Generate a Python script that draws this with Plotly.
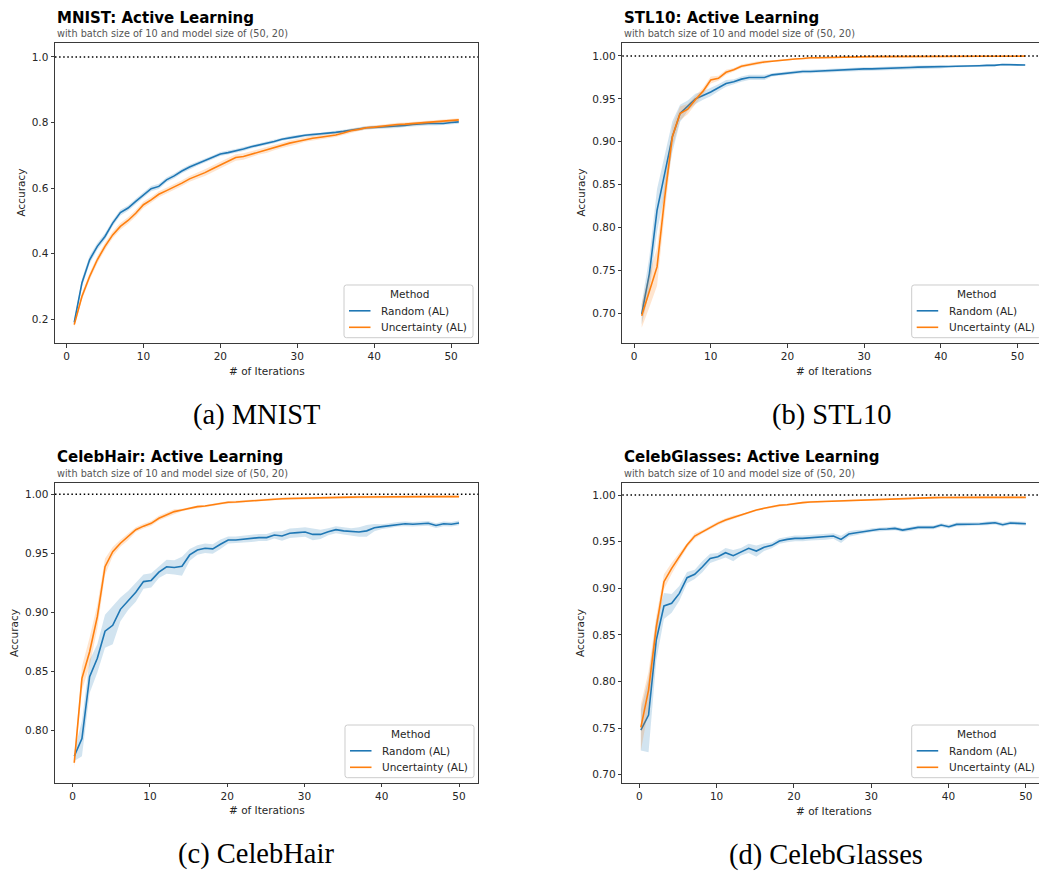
import plotly.graph_objects as go

W, H = 1039, 871

BLUE = "#1f77b4"
ORANGE = "#ff7f0e"
BLUE_BAND = "rgba(31,119,180,0.2)"
ORANGE_BAND = "rgba(255,127,14,0.2)"

METHODS = ["Random (AL)", "Uncertainty (AL)"]
LEGEND_TITLE = "Method"

# ---- iteration axes ----
MNIST_ITER = list(range(1, 52))
STL10_ITER = list(range(1, 52))
CELEB_ITER = [round(0.2 + 0.996 * k, 3) for k in range(51)]

# ---- MNIST ----
MNIST_RANDOM = [
    0.190, 0.310, 0.381, 0.422, 0.452, 0.493, 0.525, 0.539, 0.559, 0.579,
    0.598, 0.605, 0.625, 0.637, 0.652, 0.664, 0.674, 0.684, 0.693, 0.704,
    0.708, 0.713, 0.719, 0.726, 0.731, 0.737, 0.742, 0.749, 0.754, 0.757,
    0.761, 0.763, 0.764, 0.768, 0.770, 0.773, 0.777, 0.780, 0.784, 0.785,
    0.786, 0.788, 0.788, 0.791, 0.794, 0.796, 0.797, 0.797, 0.797, 0.800,
    0.802]
MNIST_RANDOM_CI = [
    0.008, 0.012, 0.012, 0.010, 0.010, 0.009, 0.009, 0.008, 0.008, 0.008,
    0.008, 0.008, 0.007, 0.007, 0.007, 0.007, 0.006, 0.006, 0.006, 0.006,
    0.006, 0.006, 0.006, 0.005, 0.005, 0.005, 0.005, 0.005, 0.005, 0.005,
    0.005, 0.005, 0.005, 0.005, 0.005, 0.005, 0.005, 0.005, 0.005, 0.005,
    0.005, 0.005, 0.005, 0.005, 0.005, 0.006, 0.006, 0.006, 0.006, 0.006,
    0.006]
MNIST_UNC = [
    0.183, 0.269, 0.330, 0.381, 0.422, 0.457, 0.483, 0.501, 0.523, 0.549,
    0.564, 0.581, 0.592, 0.603, 0.615, 0.628, 0.637, 0.647, 0.659, 0.670,
    0.681, 0.693, 0.696, 0.703, 0.711, 0.716, 0.723, 0.730, 0.737, 0.742,
    0.748, 0.752, 0.755, 0.758, 0.762, 0.768, 0.775, 0.779, 0.784, 0.786,
    0.789, 0.792, 0.794, 0.795, 0.797, 0.798, 0.800, 0.802, 0.804, 0.806,
    0.808]
MNIST_UNC_CI = [
    0.008, 0.010, 0.011, 0.011, 0.011, 0.010, 0.010, 0.010, 0.010, 0.010,
    0.009, 0.009, 0.009, 0.009, 0.009, 0.009, 0.009, 0.010, 0.010, 0.010,
    0.010, 0.010, 0.010, 0.009, 0.009, 0.009, 0.008, 0.008, 0.008, 0.008,
    0.007, 0.007, 0.007, 0.006, 0.006, 0.006, 0.006, 0.005, 0.005, 0.005,
    0.005, 0.005, 0.005, 0.005, 0.005, 0.005, 0.005, 0.005, 0.005, 0.005,
    0.005]

# ---- STL10 ----
STL10_RANDOM = [
    0.699, 0.746, 0.820, 0.861, 0.906, 0.933, 0.942, 0.950, 0.954, 0.958,
    0.963, 0.968, 0.970, 0.973, 0.975, 0.975, 0.975, 0.978, 0.979, 0.980,
    0.981, 0.982, 0.982, 0.9825, 0.983, 0.983, 0.9835, 0.984, 0.9845, 0.985,
    0.985, 0.9855, 0.986, 0.986, 0.9864, 0.9866, 0.987, 0.987, 0.9872, 0.9875,
    0.9877, 0.988, 0.988, 0.9883, 0.9887, 0.989, 0.989, 0.990, 0.990, 0.9895,
    0.9895]
STL10_RANDOM_CI = [
    0.012, 0.020, 0.025, 0.022, 0.018, 0.010, 0.006, 0.006, 0.005, 0.005,
    0.004, 0.004, 0.003, 0.003, 0.003, 0.003, 0.003, 0.002, 0.002, 0.002,
    0.002, 0.002, 0.002, 0.002, 0.002, 0.002, 0.002, 0.002, 0.002, 0.002,
    0.002, 0.002, 0.002, 0.002, 0.002, 0.002, 0.002, 0.002, 0.002, 0.002,
    0.001, 0.001, 0.001, 0.001, 0.001, 0.001, 0.001, 0.001, 0.001, 0.001,
    0.001]
STL10_UNC = [
    0.697, 0.727, 0.754, 0.835, 0.906, 0.933, 0.938, 0.949, 0.959, 0.972,
    0.974, 0.981, 0.984, 0.988, 0.990, 0.9915, 0.993, 0.994, 0.995, 0.996,
    0.9965, 0.997, 0.998, 0.998, 0.9983, 0.9985, 0.9988, 0.999, 0.999, 0.9992,
    0.9993, 0.9993, 0.9994, 0.9994, 0.9995, 0.9995, 0.9995, 0.9996, 0.9996, 0.9996,
    0.9996, 0.9997, 0.9997, 0.9997, 0.9997, 0.9997, 0.9998, 0.9998, 0.9998, 0.9998,
    0.9998]
STL10_UNC_CI = [
    0.014, 0.020, 0.022, 0.018, 0.012, 0.008, 0.006, 0.005, 0.004, 0.004,
    0.003, 0.003, 0.002, 0.002, 0.002, 0.002, 0.002, 0.001, 0.001, 0.001,
    0.001, 0.001, 0.001, 0.001, 0.001, 0.001, 0.001, 0.001, 0.001, 0.001,
    0.001, 0.001, 0.001, 0.001, 0.001, 0.001, 0.001, 0.001, 0.001, 0.001,
    0.001, 0.001, 0.001, 0.001, 0.001, 0.001, 0.001, 0.001, 0.001, 0.001,
    0.001]

# ---- CelebHair ----
CELEBHAIR_RANDOM = [
    0.778, 0.793, 0.8455, 0.861, 0.884, 0.889, 0.9025, 0.910, 0.917, 0.926,
    0.927, 0.934, 0.9386, 0.938, 0.939, 0.9486, 0.9528, 0.9542, 0.9537, 0.9576,
    0.9613, 0.9613, 0.962, 0.9625, 0.9633, 0.9633, 0.9655, 0.9647, 0.967, 0.9675,
    0.968, 0.966, 0.966, 0.9683, 0.970, 0.969, 0.9683, 0.968, 0.969, 0.9717,
    0.9726, 0.9735, 0.9746, 0.975, 0.9746, 0.975, 0.9754, 0.9735, 0.975, 0.9746,
    0.9757]
CELEBHAIR_RANDOM_CI = [
    0.004, 0.015, 0.014, 0.012, 0.014, 0.016, 0.010, 0.008, 0.008, 0.006,
    0.006, 0.005, 0.006, 0.006, 0.008, 0.005, 0.004, 0.004, 0.004, 0.004,
    0.003, 0.003, 0.003, 0.003, 0.003, 0.003, 0.003, 0.004, 0.004, 0.004,
    0.004, 0.005, 0.004, 0.003, 0.003, 0.003, 0.003, 0.004, 0.005, 0.003,
    0.002, 0.002, 0.002, 0.002, 0.002, 0.002, 0.002, 0.002, 0.002, 0.002,
    0.002]
CELEBHAIR_UNC = [
    0.7725, 0.844, 0.8666, 0.8963, 0.9386, 0.9514, 0.9585, 0.964, 0.970, 0.973,
    0.9754, 0.9797, 0.9825, 0.9853, 0.9867, 0.988, 0.9895, 0.990, 0.991, 0.9924,
    0.9932, 0.9935, 0.994, 0.9946, 0.995, 0.9955, 0.996, 0.9962, 0.9964, 0.9966,
    0.997, 0.997, 0.9972, 0.9973, 0.9974, 0.9975, 0.9976, 0.9977, 0.9978, 0.9978,
    0.9979, 0.998, 0.998, 0.998, 0.998, 0.998, 0.998, 0.998, 0.998, 0.998,
    0.998]
CELEBHAIR_UNC_CI = [
    0.004, 0.010, 0.012, 0.010, 0.007, 0.004, 0.003, 0.003, 0.002, 0.002,
    0.002, 0.002, 0.002, 0.002, 0.001, 0.001, 0.001, 0.001, 0.001, 0.001,
    0.001, 0.001, 0.001, 0.001, 0.001, 0.001, 0.001, 0.001, 0.001, 0.001,
    0.001, 0.001, 0.001, 0.001, 0.001, 0.001, 0.001, 0.001, 0.001, 0.001,
    0.001, 0.001, 0.001, 0.001, 0.001, 0.001, 0.001, 0.001, 0.001, 0.001,
    0.001]

# ---- CelebGlasses ----
CELEBGLASSES_RANDOM = [
    0.7479, 0.764, 0.8444, 0.881, 0.8838, 0.8945, 0.9113, 0.9149, 0.9231, 0.932,
    0.9338, 0.9381, 0.9349, 0.9392, 0.9428, 0.9399, 0.9439, 0.946, 0.9506, 0.9524,
    0.9535, 0.9535, 0.9542, 0.9542, 0.955, 0.956, 0.9524, 0.9582, 0.9596, 0.9607,
    0.9624, 0.9632, 0.9635, 0.9642, 0.9624, 0.9635, 0.9653, 0.9653, 0.9653, 0.9678,
    0.966, 0.9685, 0.9685, 0.9689, 0.9689, 0.9696, 0.9703, 0.9682, 0.970, 0.9696,
    0.9692]
CELEBGLASSES_RANDOM_CI = [
    0.022, 0.040, 0.022, 0.014, 0.010, 0.008, 0.006, 0.005, 0.006, 0.005,
    0.004, 0.005, 0.006, 0.004, 0.005, 0.006, 0.004, 0.003, 0.003, 0.003,
    0.003, 0.003, 0.003, 0.003, 0.003, 0.003, 0.004, 0.003, 0.003, 0.002,
    0.002, 0.002, 0.002, 0.002, 0.002, 0.002, 0.002, 0.002, 0.002, 0.002,
    0.002, 0.002, 0.002, 0.002, 0.002, 0.002, 0.002, 0.002, 0.002, 0.002,
    0.002]
CELEBGLASSES_UNC = [
    0.7507, 0.7908, 0.858, 0.907, 0.9213, 0.9338, 0.9464, 0.956, 0.9606, 0.9653,
    0.9696, 0.9732, 0.976, 0.9785, 0.981, 0.9839, 0.9857, 0.9875, 0.989, 0.9896,
    0.991, 0.9918, 0.9925, 0.9928, 0.9935, 0.9939, 0.9943, 0.9945, 0.9947, 0.995,
    0.9953, 0.9955, 0.9958, 0.996, 0.9963, 0.9965, 0.9968, 0.997, 0.9972, 0.9973,
    0.9975, 0.9975, 0.9975, 0.9975, 0.9975, 0.9975, 0.9975, 0.9975, 0.9975, 0.9975,
    0.9975]
CELEBGLASSES_UNC_CI = [
    0.025, 0.020, 0.012, 0.008, 0.006, 0.004, 0.003, 0.003, 0.002, 0.002,
    0.002, 0.002, 0.002, 0.001, 0.001, 0.001, 0.001, 0.001, 0.001, 0.001,
    0.001, 0.001, 0.001, 0.001, 0.001, 0.001, 0.001, 0.001, 0.001, 0.001,
    0.001, 0.001, 0.001, 0.001, 0.001, 0.001, 0.001, 0.001, 0.001, 0.001,
    0.001, 0.001, 0.001, 0.001, 0.001, 0.001, 0.001, 0.001, 0.001, 0.001,
    0.001]

TITLES = ["MNIST: Active Learning", "STL10: Active Learning",
          "CelebHair: Active Learning", "CelebGlasses: Active Learning"]
SUBTITLE = "with batch size of 10 and model size of (50, 20)"
CAPTIONS = ["(a) MNIST", "(b) STL10", "(c) CelebHair", "(d) CelebGlasses"]
X_TICKS = [0, 10, 20, 30, 40, 50]
Y_TICKS = [
    [0.2, 0.4, 0.6, 0.8, 1.0],
    [0.70, 0.75, 0.80, 0.85, 0.90, 0.95, 1.00],
    [0.80, 0.85, 0.90, 0.95, 1.00],
    [0.70, 0.75, 0.80, 0.85, 0.90, 0.95, 1.00],
]

# panel geometry in pixels: plot area (left, right, top, bottom), legend box (left, top)
PANELS = [
    dict(x=MNIST_ITER, series=[(MNIST_RANDOM, MNIST_RANDOM_CI), (MNIST_UNC, MNIST_UNC_CI)],
         box=(55, 478, 42.7, 343), xr=[-1.5, 53.5], yr=[0.127, 1.0436], yfmt=".1f",
         right_spine=True, legend_lt=(344, 285), ytitle_x=20.7, caption_xy=(256, 415)),
    dict(x=STL10_ITER, series=[(STL10_RANDOM, STL10_RANDOM_CI), (STL10_UNC, STL10_UNC_CI)],
         box=(622.3, W, 42.7, 343), xr=[-1.53, 52.8], yr=[0.6653, 1.0155], yfmt=".2f",
         right_spine=False, legend_lt=(911.7, 285), ytitle_x=580.7, caption_xy=(832, 415)),
    dict(x=CELEB_ITER, series=[(CELEBHAIR_RANDOM, CELEBHAIR_RANDOM_CI), (CELEBHAIR_UNC, CELEBHAIR_UNC_CI)],
         box=(55, 478.3, 482.7, 782.7), xr=[-2.29, 52.49], yr=[0.7556, 1.0098], yfmt=".2f",
         right_spine=True, legend_lt=(345, 725), ytitle_x=13.3, caption_xy=(256, 854)),
    dict(x=CELEB_ITER, series=[(CELEBGLASSES_RANDOM, CELEBGLASSES_RANDOM_CI), (CELEBGLASSES_UNC, CELEBGLASSES_UNC_CI)],
         box=(622.3, W, 482.7, 783.3), xr=[-2.2, 51.7], yr=[0.6908, 1.0132], yfmt=".2f",
         right_spine=False, legend_lt=(911.7, 725), ytitle_x=580, caption_xy=(826, 855)),
]

for p in PANELS:
    for ys, ci in p["series"]:
        assert len(ys) == len(p["x"]) == len(ci)


def px_x(v):
    return v / W


def px_y(v):
    return 1 - v / H


def rounded_box(x0, y0, x1, y1, r):
    """SVG path (paper coords) for a rounded rectangle given in pixels."""
    pts = [
        ("M", x0 + r, y0), ("L", x1 - r, y0), ("Q", x1, y0, x1, y0 + r),
        ("L", x1, y1 - r), ("Q", x1, y1, x1 - r, y1), ("L", x0 + r, y1),
        ("Q", x0, y1, x0, y1 - r), ("L", x0, y0 + r), ("Q", x0, y0, x0 + r, y0),
    ]
    out = []
    for seg in pts:
        cmd, coords = seg[0], seg[1:]
        pairs = [f"{px_x(coords[k]):.5f},{px_y(coords[k + 1]):.5f}" for k in range(0, len(coords), 2)]
        out.append(cmd + " " + " ".join(pairs))
    return " ".join(out) + " Z"


SANS = "DejaVu Sans"
SERIF = "Liberation Serif"
TEXT = "#262626"
SPINE = "#3a3a3a"

fig = go.Figure()
annotations = []
shapes = []
layout = dict(
    width=W, height=H, margin=dict(l=0, r=0, t=0, b=0),
    paper_bgcolor="white", plot_bgcolor="white", showlegend=False,
    font=dict(family=SANS, size=10.5, color=TEXT),
)


def text(s, x, y, size=10.5, color=TEXT, family=SANS, xanchor="center", angle=0):
    annotations.append(dict(text=s, x=px_x(x), y=px_y(y), xref="paper", yref="paper",
                            xanchor=xanchor, yanchor="middle", textangle=angle,
                            showarrow=False, font=dict(family=family, size=size, color=color)))


for i, p in enumerate(PANELS):
    n = i + 1
    xa = "x" if n == 1 else f"x{n}"
    ya = "y" if n == 1 else f"y{n}"
    left, right, top, bottom = p["box"]

    for (ys, ci), name, col, band in zip(p["series"], METHODS, [BLUE, ORANGE], [BLUE_BAND, ORANGE_BAND]):
        upper = [y + c for y, c in zip(ys, ci)]
        lower = [y - c for y, c in zip(ys, ci)]
        fig.add_trace(go.Scatter(
            x=list(p["x"]) + list(p["x"])[::-1], y=upper + lower[::-1],
            fill="toself", fillcolor=band, line=dict(width=0),
            mode="lines", hoverinfo="skip", xaxis=xa, yaxis=ya))
        fig.add_trace(go.Scatter(
            x=p["x"], y=ys, mode="lines", name=name,
            line=dict(color=col, width=1.6), xaxis=xa, yaxis=ya))

    axis_common = dict(showgrid=False, zeroline=False, showline=True,
                       linecolor=SPINE, linewidth=1, ticks="outside",
                       ticklen=3.5, tickwidth=0.9, tickcolor=SPINE,
                       tickfont=dict(family=SANS, size=10.5, color=TEXT))
    layout["xaxis" if n == 1 else f"xaxis{n}"] = dict(
        axis_common, domain=[px_x(left), px_x(right)], range=p["xr"],
        tickvals=X_TICKS, anchor=ya, mirror=True)
    layout["yaxis" if n == 1 else f"yaxis{n}"] = dict(
        axis_common, domain=[px_y(bottom), px_y(top)], range=p["yr"],
        tickvals=Y_TICKS[i], tickformat=p["yfmt"], anchor=xa,
        mirror=p["right_spine"])

    # reference line at perfect accuracy
    shapes.append(dict(type="line", xref=f"{xa} domain", yref=ya,
                       x0=0, x1=1, y0=1.0, y1=1.0,
                       line=dict(color="black", width=1.5, dash="1.5px,2.6px")))

    # legend box: title row plus one row per method
    lx, ly = p["legend_lt"]
    shapes.append(dict(type="path", xref="paper", yref="paper",
                       path=rounded_box(lx, ly, lx + 129, ly + 52.7, 2.5),
                       fillcolor="rgba(255,255,255,0.8)",
                       line=dict(color="#cccccc", width=1)))
    text(LEGEND_TITLE, lx + 65, ly + 9.3)
    for k, (name, col) in enumerate(zip(METHODS, [BLUE, ORANGE])):
        yy = ly + 25.8 + 16.5 * k
        shapes.append(dict(type="line", xref="paper", yref="paper",
                           x0=px_x(lx + 5), x1=px_x(lx + 26.5), y0=px_y(yy), y1=px_y(yy),
                           line=dict(color=col, width=1.6)))
        text(name, lx + 35, yy, xanchor="left")

    # titles
    text(f"<b>{TITLES[i]}</b>", left, top - 25.2, size=15, color="black", xanchor="left")
    text(SUBTITLE, left, top - 8.8, size=9.7, color="#555555", xanchor="left")
    # axis titles
    cx = (left + (right if p["right_spine"] else left + 423.3)) / 2
    text("# of Iterations", cx, bottom + 27.7)
    text("Accuracy", p["ytitle_x"], (top + bottom) / 2, angle=-90)
    # sub-figure caption
    capx, capy = p["caption_xy"]
    text(CAPTIONS[i], capx, capy, size=28.5, color="black", family=SERIF)

layout["annotations"] = annotations
layout["shapes"] = shapes
fig.update_layout(**layout)
fig.write_html("out.html")
